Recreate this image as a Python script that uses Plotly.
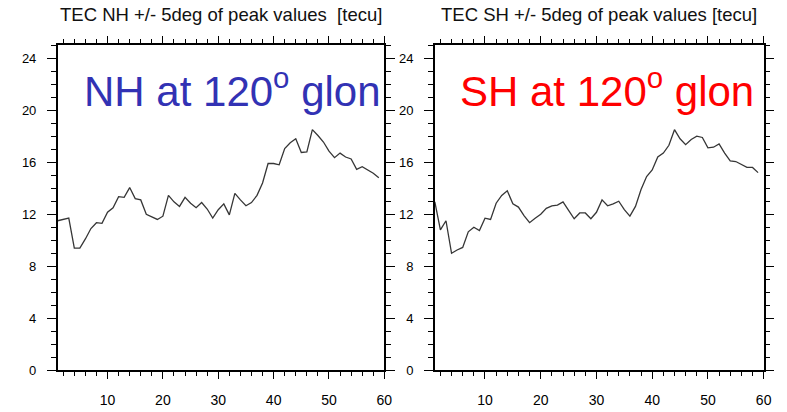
import plotly.graph_objects as go

# Day index along the x axis
days = list(range(1, 60))

# TEC (tecu) within +/-5 deg of the crest peak, 120 deg geographic longitude
tec_nh = [11.5, 11.6, 11.7, 9.4, 9.4, 10.1, 10.9, 11.35, 11.3, 12.15,
          12.5, 13.35, 13.3, 14.05, 13.2, 13.1, 12.0, 11.8, 11.6, 11.85,
          13.45, 12.95, 12.6, 13.3, 12.85, 12.5, 12.9, 12.4, 11.7, 12.35,
          12.8, 11.95, 13.6, 13.1, 12.65, 12.9, 13.45, 14.4, 15.9, 15.9,
          15.8, 17.05, 17.5, 17.8, 16.75, 16.8, 18.5, 18.05, 17.55, 16.85,
          16.35, 16.7, 16.4, 16.25, 15.45, 15.65, 15.4, 15.15, 14.8]

tec_sh = [12.95, 10.8, 11.5, 9.0, 9.25, 9.45, 10.65, 11.0, 10.75, 11.7,
          11.6, 12.85, 13.45, 13.8, 12.8, 12.55, 11.9, 11.35, 11.7, 12.0,
          12.45, 12.65, 12.7, 12.95, 12.3, 11.65, 12.1, 12.1, 11.65, 12.15,
          13.1, 12.65, 12.8, 13.0, 12.35, 11.85, 12.6, 13.9, 14.9, 15.4,
          16.4, 16.7, 17.3, 18.5, 17.8, 17.35, 17.75, 18.0, 17.9, 17.1,
          17.15, 17.4, 16.7, 16.1, 16.05, 15.8, 15.6, 15.6, 15.2]

panel_titles = ["TEC NH +/- 5deg of peak values&nbsp; [tecu]",
                "TEC SH +/- 5deg of peak values [tecu]"]
panel_labels = ["NH at 120<sup>o</sup> glon", "SH at 120<sup>o</sup> glon"]
label_colors = ["#3232b4", "#ff0000"]

x_ticks = [10, 20, 30, 40, 50, 60]
y_ticks = [0, 4, 8, 12, 16, 20, 24]

W, H = 787, 412
x_domains = [[58.3 / W, 388.3 / W], [439.3 / W, 771.5 / W]]
y_domain = [1 - 377.7 / H, 1 - 46 / H]

fig = go.Figure()

for i, series in enumerate([tec_nh, tec_sh]):
    sfx = "" if i == 0 else str(i + 1)
    fig.add_trace(go.Scatter(
        x=days, y=series, mode="lines",
        line=dict(color="#363636", width=1.3),
        xaxis="x" + sfx, yaxis="y" + sfx, showlegend=False,
        hoverinfo="skip",
    ))

axis_common = dict(
    showgrid=False, zeroline=False,
    showline=True, linecolor="black", linewidth=1.5,
    mirror="allticks", ticks="outside", tickcolor="black", tickwidth=1,
)

for i in range(2):
    sfx = "" if i == 0 else str(i + 1)
    fig.update_layout(**{
        "xaxis" + sfx: dict(
            axis_common, domain=x_domains[i], range=[1, 60],
            anchor="y" + sfx, tickvals=x_ticks, ticklen=7,
            minor=dict(dtick=2, tick0=0, ticklen=4, ticks="outside",
                       tickcolor="black", tickwidth=1),
            tickfont=dict(family="Liberation Sans, Arial", size=14, color="black"),
            ticklabelstandoff=9,
        ),
        "yaxis" + sfx: dict(
            axis_common, domain=y_domain, range=[0, 25],
            anchor="x" + sfx, tickvals=y_ticks, ticklen=9,
            minor=dict(dtick=1, tick0=0, ticklen=5, ticks="outside",
                       tickcolor="black", tickwidth=1),
            tickfont=dict(family="Liberation Sans, Arial", size=13, color="black"),
            ticklabelstandoff=8,
        ),
    })

annotations = []
for i in range(2):
    cx = (x_domains[i][0] + x_domains[i][1]) / 2
    annotations.append(dict(
        text=panel_titles[i], xref="paper", yref="paper",
        x=cx, y=1 - 15 / H, xanchor="center", yanchor="middle",
        showarrow=False,
        font=dict(family="Liberation Sans, Arial", size=18.5, color="#111111"),
    ))
label_x = [83 / W, 463 / W]
for i in range(2):
    annotations.append(dict(
        text=panel_labels[i], xref="paper", yref="paper",
        x=label_x[i], y=1 - 90 / H, xanchor="left", yanchor="middle",
        showarrow=False,
        font=dict(family="Liberation Sans, Arial", size=42, color=label_colors[i]),
    ))

fig.update_layout(
    width=W, height=H,
    margin=dict(l=0, r=0, t=0, b=0),
    paper_bgcolor="white", plot_bgcolor="white",
    annotations=annotations,
)

fig.write_html("out.html")
